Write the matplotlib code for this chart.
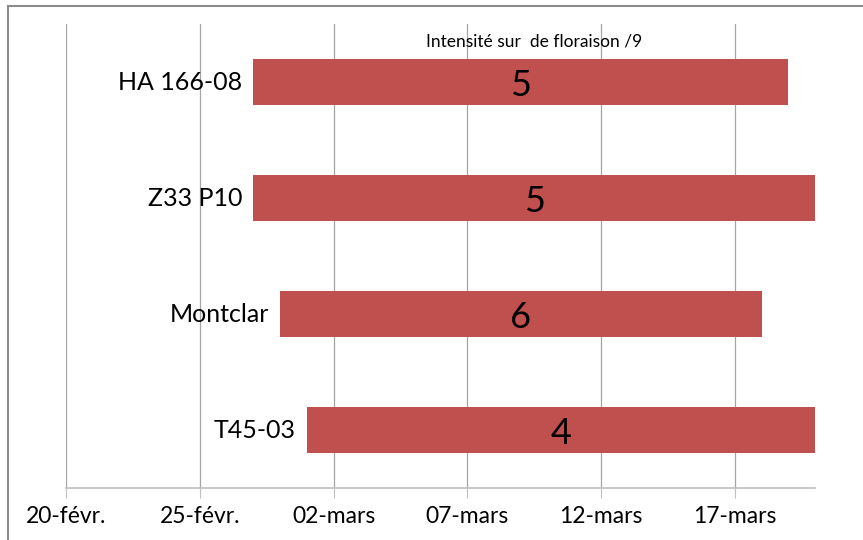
import matplotlib.pyplot as plt
from matplotlib.patches import Rectangle
import datetime as dt

# data
varieties = ["HA 166-08", "Z33 P10", "Montclar", "T45-03"]
start_dates = ["2015-02-27", "2015-02-27", "2015-02-28", "2015-03-01"]
end_dates = ["2015-03-19", "2015-03-20", "2015-03-18", "2015-03-20"]
intensity = [5, 5, 6, 4]

tick_labels = ["20-févr.", "25-févr.", "02-mars", "07-mars", "12-mars", "17-mars"]
title = "Intensité sur  de floraison /9"

origin = dt.date(2015, 2, 20)


def day(s):
    return (dt.date.fromisoformat(s) - origin).days


plt.rcParams['font.family'] = ['Lato', 'DejaVu Sans']

fig = plt.figure(figsize=(8.63, 5.40), dpi=100)
ax = fig.add_axes([66 / 863, 1 - 488 / 540, (815 - 66) / 863, (488 - 24) / 540])

starts = [day(s) for s in start_dates]
lengths = [day(e) - day(s) for s, e in zip(start_dates, end_dates)]
ypos = list(range(len(varieties)))

ax.barh(ypos, lengths, left=starts, height=0.4, color="#C0504D", zorder=3)

for y, s, L, v, name in zip(ypos, starts, lengths, intensity, varieties):
    ax.annotate(str(v), (s + L / 2, y), xytext=(0, -3), textcoords="offset pixels",
                ha="center", va="center", fontsize=26, color="black", zorder=4)
    # variety name sits just before the start of its bar
    ax.annotate(name, (s, y), xytext=(-11, 0), textcoords="offset pixels",
                ha="right", va="center", fontsize=18, color="black", zorder=4)

ax.set_yticks([])
ax.set_ylim(len(varieties) - 0.5, -0.5)

ax.set_xlim(0, 28)
ax.set_xticks(range(0, 30, 5))
ax.set_xticklabels(tick_labels, fontsize=16.5)
ax.tick_params(axis="x", length=7, color="#bfbfbf", pad=6)
ax.xaxis.grid(True, color="#a6a6a6", linewidth=0.9, zorder=0)

for side in ["top", "right", "left"]:
    ax.spines[side].set_visible(False)
ax.spines["bottom"].set_color("#bfbfbf")
ax.spines["bottom"].set_linewidth(1.2)

fig.text(534 / 863, 1 - 42 / 540, title, ha="center", va="center", fontsize=12.5)

# chart border (top and left edge visible)
fig.patches.append(Rectangle((8 / 863, -0.1), 1.2, 1 - 6 / 540 + 0.1, transform=fig.transFigure,
                             fill=False, edgecolor="#8c8c8c", linewidth=1.5))

fig.savefig("out.png", dpi=100)
